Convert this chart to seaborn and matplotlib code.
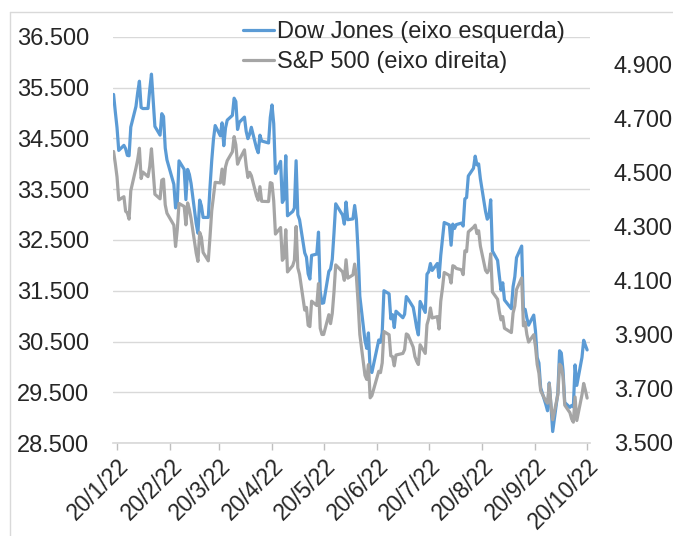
import numpy as np
import pandas as pd
import seaborn as sns
import matplotlib.pyplot as plt
from matplotlib.lines import Line2D

# dias sem pregao (EUA) dentro do periodo
feriados = ["2022-02-21", "2022-04-15", "2022-05-30", "2022-06-20", "2022-07-04", "2022-09-05"]

# Dow Jones, fechamento diario (eixo esquerdo)
dow = [
    # jan (18-31)
    35368, 35029, 34715, 34265, 34365, 34298, 34168, 34160, 34725, 35132,
    # fev
    35405, 35629, 35112, 35090, 35092, 35463, 35768, 35241, 34738, 34566,
    34989, 34935, 34312, 34079, 33597, 33132, 33224, 34059, 33893,
    # mar
    33295, 33891, 33795, 33615, 32818, 32633, 33286, 33174, 32944, 32945,
    33545, 34063, 34481, 34755, 34553, 34808, 34358, 34708, 34862, 34956,
    35294, 35229, 34678,
    # abr
    34818, 34922, 34642, 34497, 34584, 34721, 34309, 34220, 34565, 34451,
    34412, 34912, 35161, 34793, 33811, 34049, 33240, 33302, 34160, 32977,
    # mai
    33061, 33129, 34061, 32998, 32899, 32246, 32161, 31834, 31730, 32197,
    32223, 32655, 31490, 31253, 31262, 31880, 31929, 32120, 32637, 33213,
    32990,
    # jun
    32813, 33248, 32900, 32916, 33180, 32910, 32273, 31393, 30517, 30365,
    30669, 29927, 29889, 30530, 30484, 30677, 31501, 31439, 30947, 31029,
    30775,
    # jul
    31097, 30968, 31037, 31385, 31338, 31174, 30982, 30773, 30630, 31289,
    31073, 31827, 31875, 32037, 31900, 32037, 31762, 32198, 32530, 32845,
    # ago
    32798, 32397, 32813, 32727, 32803, 32833, 32775, 33310, 33337, 33761,
    33913, 34152, 33981, 33999, 33707, 33064, 32910, 32970, 33292, 32283,
    32099, 31791, 31510,
    # set
    31657, 31318, 31146, 31581, 31775, 32152, 32381, 31105, 31135, 30962,
    30822, 31020, 30706, 30184, 30077, 29590, 29261, 29135, 29684, 29226,
    28726,
    # out (ate 20)
    29491, 30317, 30274, 29927, 29297, 29203, 29240, 29211, 30039, 29635,
    30186, 30524, 30424, 30334,
]

# S&P 500, fechamento diario (eixo direito)
sp500 = [
    # jan
    4577, 4533, 4483, 4398, 4410, 4356, 4350, 4327, 4432, 4516,
    # fev
    4547, 4589, 4477, 4501, 4484, 4522, 4587, 4504, 4419, 4402,
    4471, 4475, 4380, 4349, 4305, 4226, 4289, 4385, 4374,
    # mar
    4306, 4387, 4363, 4329, 4201, 4171, 4278, 4260, 4204, 4173,
    4262, 4358, 4412, 4463, 4461, 4512, 4456, 4520, 4543, 4576,
    4632, 4602, 4530,
    # abr
    4546, 4583, 4525, 4481, 4500, 4488, 4413, 4397, 4447, 4393,
    4392, 4462, 4459, 4394, 4272, 4296, 4175, 4184, 4288, 4132,
    # mai
    4155, 4175, 4300, 4147, 4123, 3991, 4001, 3935, 3930, 4024,
    4008, 4089, 3924, 3901, 3901, 3974, 3941, 3979, 4058, 4158,
    4132,
    # jun
    4101, 4177, 4109, 4121, 4161, 4116, 4018, 3901, 3750, 3735,
    3790, 3667, 3675, 3765, 3760, 3796, 3912, 3900, 3822, 3819,
    3785,
    # jul
    3825, 3831, 3845, 3903, 3899, 3854, 3819, 3802, 3790, 3863,
    3831, 3937, 3960, 3999, 3962, 3967, 3921, 4024, 4072, 4130,
    # ago
    4119, 4091, 4155, 4152, 4145, 4140, 4122, 4210, 4207, 4280,
    4297, 4305, 4274, 4284, 4228, 4138, 4129, 4141, 4199, 4058,
    4031, 3986, 3955,
    # set
    3967, 3924, 3908, 3980, 4006, 4067, 4110, 3933, 3946, 3901,
    3873, 3900, 3856, 3790, 3758, 3693, 3655, 3647, 3719, 3640,
    3586,
    # out
    3678, 3791, 3783, 3745, 3640, 3612, 3589, 3577, 3670, 3583,
    3678, 3720, 3695, 3666,
]

tick_datas = ["2022-01-20", "2022-02-20", "2022-03-20", "2022-04-20", "2022-05-20",
              "2022-06-20", "2022-07-20", "2022-08-20", "2022-09-20", "2022-10-20"]
tick_labels = ["20/1/22", "20/2/22", "20/3/22", "20/4/22", "20/5/22",
               "20/6/22", "20/7/22", "20/8/22", "20/9/22", "20/10/22"]

datas = pd.bdate_range("2022-01-18", "2022-10-20")
datas = datas[~datas.isin(pd.to_datetime(feriados))]
df = pd.DataFrame({"data": datas, "dow": dow, "sp": sp500})

sns.set_theme(style="white")
plt.rcParams['font.family'] = ['Liberation Sans', 'DejaVu Sans']

azul = "#5B9BD5"
cinza = "#A5A5A5"
grade = "#D9D9D9"

fig = plt.figure(figsize=(6.73, 5.36), dpi=100)
ax = fig.add_axes([113/673, 1 - 443/536, 477/673, 406/536])

sns.lineplot(data=df, x="data", y="dow", ax=ax, color=azul, linewidth=2.3,
             label="Dow Jones (eixo esquerda)", legend=False)
ax2 = ax.twinx()
sns.lineplot(data=df, x="data", y="sp", ax=ax2, color=cinza, linewidth=2.3,
             label="S&P 500 (eixo direita)", legend=False)

ax.set_xlim(pd.Timestamp("2022-01-17 16:00"), pd.Timestamp("2022-10-21 16:00"))
ax.set_ylim(28500, 36500)
ax2.set_ylim(3500, 5000)

yl = list(range(28500, 36501, 1000))
ax.set_yticks(yl)
ax.set_yticklabels([f"{v:,}".replace(",", ".") for v in yl], fontsize=17)
yr = list(range(3500, 4901, 200))
ax2.set_yticks(yr)
ax2.set_yticklabels([f"{v:,}".replace(",", ".") for v in yr], fontsize=17)

ax.set_xticks(pd.to_datetime(tick_datas))
ax.set_xticklabels(tick_labels, fontsize=16.5, rotation=45, ha="right", rotation_mode="anchor")

ax.grid(axis="y", color=grade, linewidth=1)
ax.set_axisbelow(True)
ax.set_xlabel("")
ax.set_ylabel("")
ax2.set_ylabel("")

for a in (ax, ax2):
    for s in ("top", "left", "right", "bottom"):
        a.spines[s].set_visible(False)
ax.spines["bottom"].set_visible(True)
ax.spines["bottom"].set_color(grade)

ax.tick_params(axis="x", length=5, color="#BFBFBF", width=1, pad=3, bottom=True)
ax.tick_params(axis="y", length=0, pad=17)
ax2.tick_params(axis="y", length=0, pad=17)

h1, l1 = ax.get_legend_handles_labels()
h2, l2 = ax2.get_legend_handles_labels()
fig.legend(h1 + h2, l1 + l2, loc="upper left", bbox_to_anchor=(243/673, 1 - 21/536),
           frameon=False, fontsize=17, handlelength=1.3, handletextpad=0.15,
           labelspacing=0.35, borderpad=0, borderaxespad=0)

# moldura clara do grafico
fig.add_artist(Line2D([10/673, 10/673], [0, 1 - 12/536], transform=fig.transFigure, color=grade, lw=1))
fig.add_artist(Line2D([10/673, 1], [1 - 12/536, 1 - 12/536], transform=fig.transFigure, color=grade, lw=1))

plt.savefig("out.png", dpi=100)
plt.close()
